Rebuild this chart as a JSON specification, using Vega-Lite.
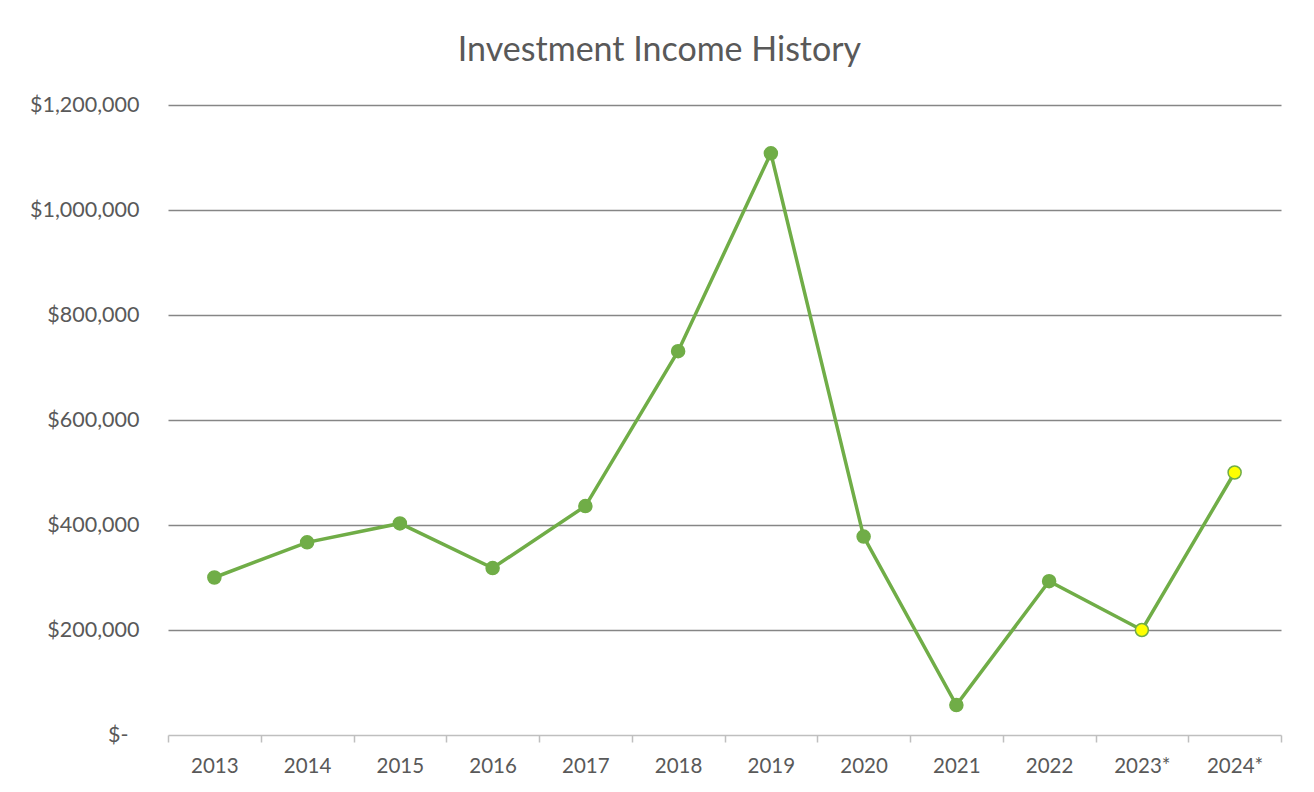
{
  "$schema": "https://vega.github.io/schema/vega-lite/v6.json",
  "width": 1113,
  "height": 630,
  "autosize": "none",
  "padding": {"left": 168, "top": 105, "right": 33, "bottom": 57},
  "background": "white",
  "title": {
    "text": "Investment Income History",
    "font": "Lato",
    "fontSize": 34,
    "fontWeight": "normal",
    "color": "#595959",
    "anchor": "middle",
    "frame": "group",
    "dx": -65,
    "offset": 26
  },
  "data": {
    "values": [
      {"year": "2013", "income": 300000, "kind": "actual"},
      {"year": "2014", "income": 367000, "kind": "actual"},
      {"year": "2015", "income": 403000, "kind": "actual"},
      {"year": "2016", "income": 318000, "kind": "actual"},
      {"year": "2017", "income": 436000, "kind": "actual"},
      {"year": "2018", "income": 731000, "kind": "actual"},
      {"year": "2019", "income": 1108000, "kind": "actual"},
      {"year": "2020", "income": 378000, "kind": "actual"},
      {"year": "2021", "income": 57000, "kind": "actual"},
      {"year": "2022", "income": 293000, "kind": "actual"},
      {"year": "2023*", "income": 200000, "kind": "projected"},
      {"year": "2024*", "income": 500000, "kind": "projected"}
    ]
  },
  "encoding": {
    "x": {
      "field": "year",
      "type": "nominal",
      "sort": null,
      "scale": {"type": "band", "paddingInner": 0, "paddingOuter": 0},
      "axis": {
        "title": null,
        "labelAngle": 0,
        "labelFont": "Lato",
        "labelFontSize": 20.5,
        "labelColor": "#595959",
        "labelPadding": 14,
        "domainColor": "#BFBFBF",
        "domainWidth": 1.5,
        "tickColor": "#BFBFBF",
        "tickWidth": 1.5,
        "tickSize": 7,
        "tickBand": "extent",
        "grid": false
      }
    },
    "y": {
      "field": "income",
      "type": "quantitative",
      "scale": {"domain": [0, 1200000], "nice": false},
      "axis": {
        "title": null,
        "values": [0, 200000, 400000, 600000, 800000, 1000000, 1200000],
        "labelExpr": "datum.value === 0 ? '$-' : format(datum.value, '$,')",
        "labelFont": "Lato",
        "labelFontSize": 21.5,
        "labelColor": "#595959",
        "labelPadding": {"condition": {"test": "datum.value === 0", "value": 40}, "value": 29},
        "ticks": false,
        "domain": false,
        "grid": true,
        "gridColor": "#868686",
        "gridWidth": 1.5,
        "gridOpacity": {"condition": {"test": "datum.value === 0", "value": 0}, "value": 1}
      }
    }
  },
  "layer": [
    {"mark": {"type": "line", "color": "#70AD47", "strokeWidth": 3.5}},
    {
      "mark": {"type": "circle", "size": 170, "opacity": 1, "stroke": "#70AD47", "strokeWidth": 1.5},
      "encoding": {
        "fill": {
          "field": "kind",
          "type": "nominal",
          "scale": {"domain": ["actual", "projected"], "range": ["#70AD47", "#FFFF00"]},
          "legend": null
        }
      }
    }
  ],
  "config": {"view": {"stroke": null}}
}
